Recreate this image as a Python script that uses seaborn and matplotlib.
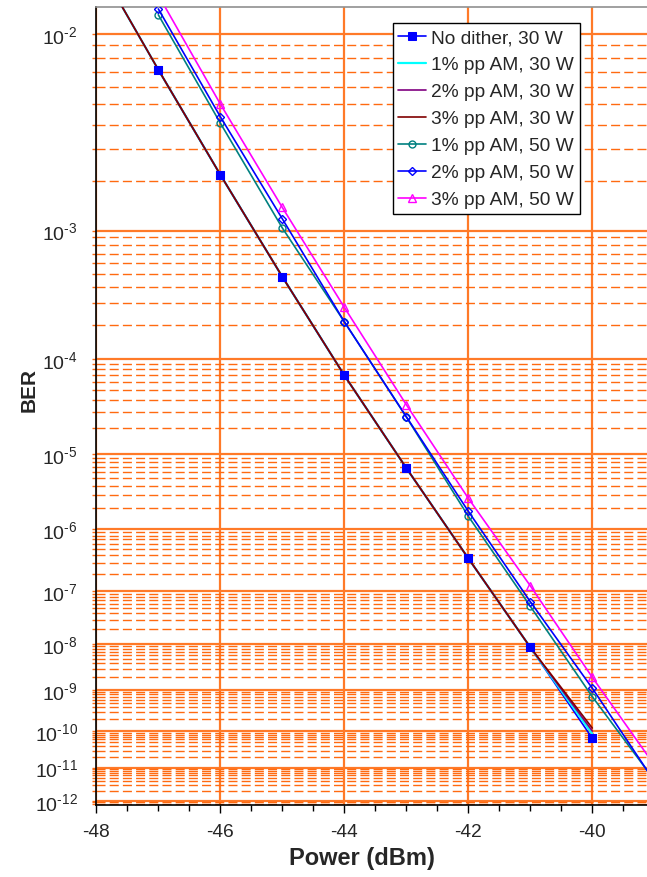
import math
import numpy as np
import pandas as pd
import matplotlib
matplotlib.use("Agg")
import matplotlib.pyplot as plt
import matplotlib.ticker as mticker
from matplotlib.mathtext import MathTextParser
import seaborn as sns

# ---------------- data ----------------
power_nd = [-47, -46, -45, -44, -43, -42, -41, -40]
ber_nd = [7.14e-3, 2.18e-3, 4.78e-4, 7.01e-5, 6.72e-6, 3.55e-7, 8.6e-9, 6.43e-11]

power_30 = [-48, -47, -46, -45, -44, -43, -42, -41, -40]
ber_1pp_30 = [1.8e-2, 7.14e-3, 2.18e-3, 4.78e-4, 7.01e-5, 6.72e-6, 3.55e-7, 8.6e-9, 8.34e-11]
ber_2pp_30 = [1.8e-2, 7.14e-3, 2.18e-3, 4.78e-4, 7.01e-5, 6.72e-6, 3.55e-7, 8.6e-9, 9.98e-11]
ber_3pp_30 = [1.8e-2, 7.14e-3, 2.18e-3, 4.78e-4, 7.01e-5, 6.72e-6, 3.55e-7, 8.6e-9, 1.19e-10]

power_50 = [-47, -46, -45, -44, -43, -42, -41, -40, -39]
ber_1pp_50 = [1.18e-2, 4.07e-3, 1.04e-3, 2.12e-4, 2.63e-5, 1.53e-6, 5.36e-8, 7.05e-10, 4.29e-12]
ber_2pp_50 = [1.24e-2, 4.37e-3, 1.19e-3, 2.12e-4, 2.65e-5, 1.80e-6, 6.5e-8, 1.11e-9, 3.98e-12]
ber_3pp_50 = [1.39e-2, 5.02e-3, 1.40e-3, 2.78e-4, 3.55e-5, 2.72e-6, 1.24e-7, 1.96e-9, 1.19e-11]

labels = ["No dither, 30 W", "1% pp AM, 30 W", "2% pp AM, 30 W", "3% pp AM, 30 W",
          "1% pp AM, 50 W", "2% pp AM, 50 W", "3% pp AM, 50 W"]
decades = [-2, -3, -4, -5, -6, -7, -8, -9, -10, -11, -12]
x_ticks = [-48, -46, -44, -42, -40]

# ---------------- BER (Q) scale ----------------
SQ2 = math.sqrt(2.0)

def _qinv_scalar(p):
    if not np.isfinite(p) or p >= 0.5:
        return 1e-6
    if p <= 0:
        return 40.0
    lo, hi = 0.0, 40.0
    for _ in range(70):
        mid = 0.5 * (lo + hi)
        if 0.5 * math.erfc(mid / SQ2) > p:
            lo = mid
        else:
            hi = mid
    return max(0.5 * (lo + hi), 1e-6)

_qinv = np.vectorize(_qinv_scalar, otypes=[float])
_erfc = np.vectorize(math.erfc, otypes=[float])

def fwd(b):
    b = np.asarray(b, dtype=float)
    return -np.log10(_qinv(b))

def inv(y):
    y = np.asarray(y, dtype=float)
    q = np.power(10.0, -y)
    return 0.5 * _erfc(q / SQ2)

# ---------------- style ----------------
sns.set_style("white")
plt.rcParams["font.family"] = ["Liberation Sans", "DejaVu Sans"]
plt.rcParams["axes.unicode_minus"] = False
plt.rcParams["mathtext.fontset"] = "custom"
plt.rcParams["mathtext.rm"] = "Liberation Sans"
plt.rcParams["mathtext.it"] = "Liberation Sans"
plt.rcParams["mathtext.default"] = "regular"

# superscript with a short hyphen if mathtext supports \text
try:
    MathTextParser("path").parse(r"$10^{\text{-}2}$")
    SUP_FMT = r"$10^{\text{-}%d}$"
except Exception:
    SUP_FMT = None

def ytick_fmt(v, p):
    e = int(round(math.log10(v)))
    if SUP_FMT is not None and e < 0:
        return SUP_FMT % (-e)
    return r"$10^{%d}$" % e

ORANGE = "#FF6A10"
ORANGE_MAJ = "#FF7A28"

fig = plt.figure(figsize=(6.47, 8.78), dpi=100)
ax = fig.add_axes([96.3 / 647, 1 - 805.7 / 878, 1 - 96.3 / 647, (805.7 - 8) / 878])
ax.set_yscale("function", functions=(fwd, inv))

# ---------------- series ----------------
ax.set_xlim(-48, -48 + (647 - 96.3) / 62.0)
ax.set_ylim(7.46e-13, 1.26e-2)

lw = 1.2
sns.lineplot(x=power_nd, y=ber_nd, color="#0000FF", lw=lw, marker="s", ms=6,
             mfc="#0000FF", mec="#0000FF", label=labels[0], ax=ax, zorder=3)
sns.lineplot(x=power_30, y=ber_1pp_30, color="#00FFFF", lw=lw + 0.4, label=labels[1], ax=ax, zorder=3)
sns.lineplot(x=power_30, y=ber_2pp_30, color="#800080", lw=lw, label=labels[2], ax=ax, zorder=3)
sns.lineplot(x=power_30, y=ber_3pp_30, color="#800000", lw=lw, label=labels[3], ax=ax, zorder=3)
sns.lineplot(x=power_50, y=ber_1pp_50, color="#008080", lw=lw, marker="o", ms=5,
             mfc="none", mec="#008080", mew=1.0, label=labels[4], ax=ax, zorder=3)
sns.lineplot(x=power_50, y=ber_2pp_50, color="#0000FF", lw=lw, marker="D", ms=4.2,
             mfc="none", mec="#0000FF", mew=1.0, label=labels[5], ax=ax, zorder=3)
sns.lineplot(x=power_50, y=ber_3pp_50, color="#FF00FF", lw=lw, marker="^", ms=5.8,
             mfc="none", mec="#FF00FF", mew=1.0, label=labels[6], ax=ax, zorder=3)
# no-dither markers on top of the overlapping 30 W lines
sns.lineplot(x=power_nd, y=ber_nd, color="#0000FF", linestyle="none", marker="s", ms=6,
             mfc="#0000FF", mec="#0000FF", ax=ax, zorder=4, legend=False)

# ---------------- axes / ticks / grid ----------------
major_y = [10.0 ** d for d in decades]
minor_y = [k * 10.0 ** d for d in decades[1:] for k in range(2, 10)]
minor_y += [k * 10.0 ** -13 for k in range(8, 10)]
ax.yaxis.set_major_locator(mticker.FixedLocator(major_y))
ax.yaxis.set_minor_locator(mticker.FixedLocator(minor_y))
ax.yaxis.set_major_formatter(mticker.FuncFormatter(ytick_fmt))
ax.yaxis.set_minor_formatter(mticker.NullFormatter())

ax.xaxis.set_major_locator(mticker.FixedLocator(x_ticks))
ax.xaxis.set_minor_locator(mticker.MultipleLocator(0.5))
ax.xaxis.set_major_formatter(mticker.FuncFormatter(lambda v, p: "%d" % round(v)))

ax.grid(False)
ax.yaxis.grid(True, which="major", color=ORANGE_MAJ, lw=1.6, ls="-", zorder=1)
ax.yaxis.grid(True, which="minor", color=ORANGE, lw=1.0, ls=(0, (6.5, 3.0)), zorder=1)
ax.xaxis.grid(True, which="major", color=ORANGE_MAJ, lw=1.6, ls="-", zorder=1)
ax.set_axisbelow(True)

ax.tick_params(axis="x", which="major", direction="out", length=6, width=1, color="black",
               labelsize=13.8, pad=7, bottom=True)
ax.tick_params(axis="x", which="minor", direction="out", length=4, width=1, color="black",
               bottom=True)
ax.tick_params(axis="y", which="both", direction="out", length=3, width=1, color=ORANGE,
               labelsize=14, pad=10.5, left=True)

for side in ["left", "bottom"]:
    ax.spines[side].set_color("black")
    ax.spines[side].set_linewidth(1.2)
ax.spines["top"].set_color("#909090")
ax.spines["top"].set_linewidth(1.2)
ax.spines["right"].set_visible(False)

ax.set_xlabel("Power (dBm)", fontsize=17, fontweight="bold")
ax.set_ylabel("BER", fontsize=15, fontweight="bold")
ax.xaxis.set_label_coords((362 - 96.3) / 550.7, (805.7 - 847) / 797.7)
ax.yaxis.set_label_coords((39 - 96.3) / 550.7, 1 - (390 - 8) / 797.7)

leg = ax.legend(loc="upper right", bbox_to_anchor=((580 - 96.3) / 550.7, 1 - (24.3 - 8) / 797.7),
                borderaxespad=0, fontsize=13.8, frameon=True, fancybox=False,
                edgecolor="black", framealpha=1, handlelength=1.45, handletextpad=0.27,
                labelspacing=0.5, borderpad=0.3)
leg.get_frame().set_linewidth(1.0)
leg.set_zorder(10)

fig.savefig("out.png", dpi=100)
